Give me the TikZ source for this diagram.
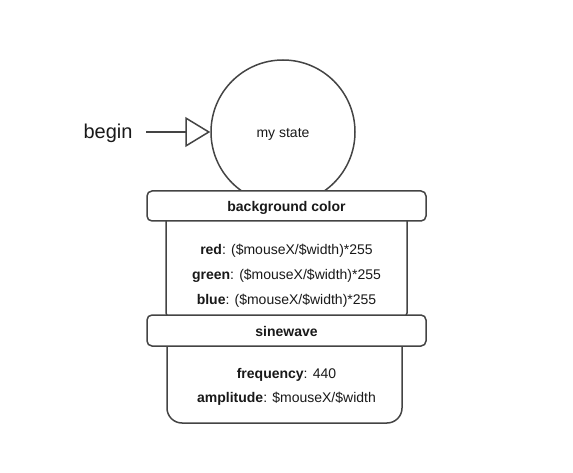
\documentclass[tikz,border=0pt]{standalone}
\usepackage{fontspec}
\setmainfont{Liberation Sans}
\usetikzlibrary{arrows.meta}
\definecolor{edge}{HTML}{444444}

\begin{document}
\begin{tikzpicture}[x=1pt,y=-1pt,
	every node/.style={font=\fontsize{14}{25}\selectfont, text=black!90},
	head/.style={draw=edge, line width=1.5pt, fill=white, rounded corners=5pt,
		minimum width=279pt, minimum height=30pt, inner sep=0pt,
		text height=14pt, text depth=3pt,
		font=\fontsize{14}{25}\selectfont\bfseries},
	body/.style={draw=edge, line width=1.5pt, fill=white, inner sep=0pt}]
	\useasboundingbox (0,0) rectangle (573,473);
	\node[draw=edge, line width=1.5pt, circle, minimum size=144pt, inner sep=0pt,
		text height=14pt, text depth=3pt] (state) at (283,132) {my state};
	\node[font=\fontsize{20}{24}\selectfont] (begin) at (108,133) {begin};
	\draw[edge, line width=1.5pt, -{Triangle[open,length=25pt,width=30pt]}, shorten <=10pt] (begin.east |- state) -- (state);
	\node[body, rounded corners=5pt, minimum width=241pt, minimum height=108pt] (colorbody) at (286.5,264) {};
	\node[head] (colorhead) at (286.5,206) {background color};
	\node[align=center] (colortext) at (286.5,275.5) {\textbf{red}: (\$mouseX/\$width)*255\\
		\textbf{green}: (\$mouseX/\$width)*255\\
		\textbf{blue}: (\$mouseX/\$width)*255};
	\node[body, rounded corners=15pt, minimum width=235pt, minimum height=103pt] (sinebody) at (284.5,371.5) {};
	\node[head, minimum height=31pt] (sinehead) at (286.5,330.5) {sinewave};
	\node[align=center, font=\fontsize{14}{24}\selectfont] (sinetext) at (286.5,387) {\textbf{frequency}: 440\\
		\textbf{amplitude}: \$mouseX/\$width};
\end{tikzpicture}
\end{document}
